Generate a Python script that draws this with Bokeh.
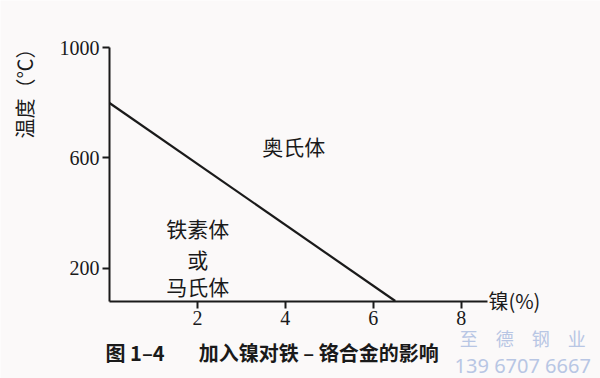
from math import pi

from bokeh.embed import file_html
from bokeh.models import FixedTicker, Label, Range1d
from bokeh.plotting import figure
from bokeh.resources import INLINE

# Phase boundary: effect of nickel on Fe-Cr alloy
nickel_pct = [0.0, 6.5]
boundary_temp = [800, 80]

x_ticks = [2, 4, 6, 8]
y_ticks = [200, 600, 1000]

BG = "#fbf9f9"
INK = "#1a1a1a"
CJK = "Noto Sans CJK SC"
SERIF = "Liberation Serif"

# The frame spans the whole page; the axes are pinned at Ni = 0 and T = 80
# so captions and titles can sit anywhere around them.
p = figure(
    width=600, height=378,
    min_border=0, min_border_left=0, min_border_right=0,
    min_border_top=0, min_border_bottom=0,
    x_range=Range1d(-2.4795, 11.169), y_range=Range1d(-201.8, 1172.7),
    output_backend="svg", toolbar_location=None,
    background_fill_color=BG, border_fill_color=BG,
)
p.outline_line_color = None
p.grid.visible = False

for ax in (p.xaxis[0], p.yaxis[0]):
    ax.axis_line_color = INK
    ax.axis_line_width = 2
    ax.major_tick_line_color = INK
    ax.major_tick_line_width = 2
    ax.major_tick_in = 0
    ax.major_tick_out = 7
    ax.minor_tick_line_color = None
    ax.major_label_text_font = SERIF
    ax.major_label_text_font_size = "20px"
    ax.major_label_text_color = INK
    ax.major_label_standoff = 3

p.xaxis.ticker = FixedTicker(ticks=x_ticks)
p.yaxis.ticker = FixedTicker(ticks=y_ticks)
p.xaxis.fixed_location = 80
p.yaxis.fixed_location = 0
p.xaxis.bounds = (0, 8.6)
p.yaxis.bounds = (80, 1000)

p.line(nickel_pct, boundary_temp, line_color=INK, line_width=2.2)


def add_label(x, y, text, size="21px", font=CJK, color=INK, align="center",
              style="normal", angle=0.0):
    p.add_layout(Label(
        x=x, y=y, text=text, text_font=font, text_font_size=size,
        text_color=color, text_align=align, text_baseline="middle",
        text_font_style=style, angle=angle,
    ))


# Phase region names
add_label(4.19, 645, "奥氏体")
add_label(2.01, 347, "铁素体")
add_label(2.01, 234, "或")
add_label(2.01, 133, "马氏体")

# Axis titles
add_label(-1.93, 853, "温度（℃）", size="20px", angle=pi / 2)
add_label(8.62, 82, "镍(%)", size="20px", align="left")

# Figure caption
add_label(-0.09, -107, "图 1–4", size="20px", align="left", style="bold")
add_label(2.03, -107, "加入镍对铁 – 铬合金的影响", size="20px", align="left",
          style="bold")

# Publisher stamp
WM = "#b8c6e4"
add_label(9.40, -53, "至\u3000德\u3000钢\u3000业", size="18px", color=WM)
add_label(9.40, -155, "139\u00a06707\u00a06667", size="20px",
          font="Noto Sans", color=WM)

open("out.html", "w").write(file_html(p, INLINE))
